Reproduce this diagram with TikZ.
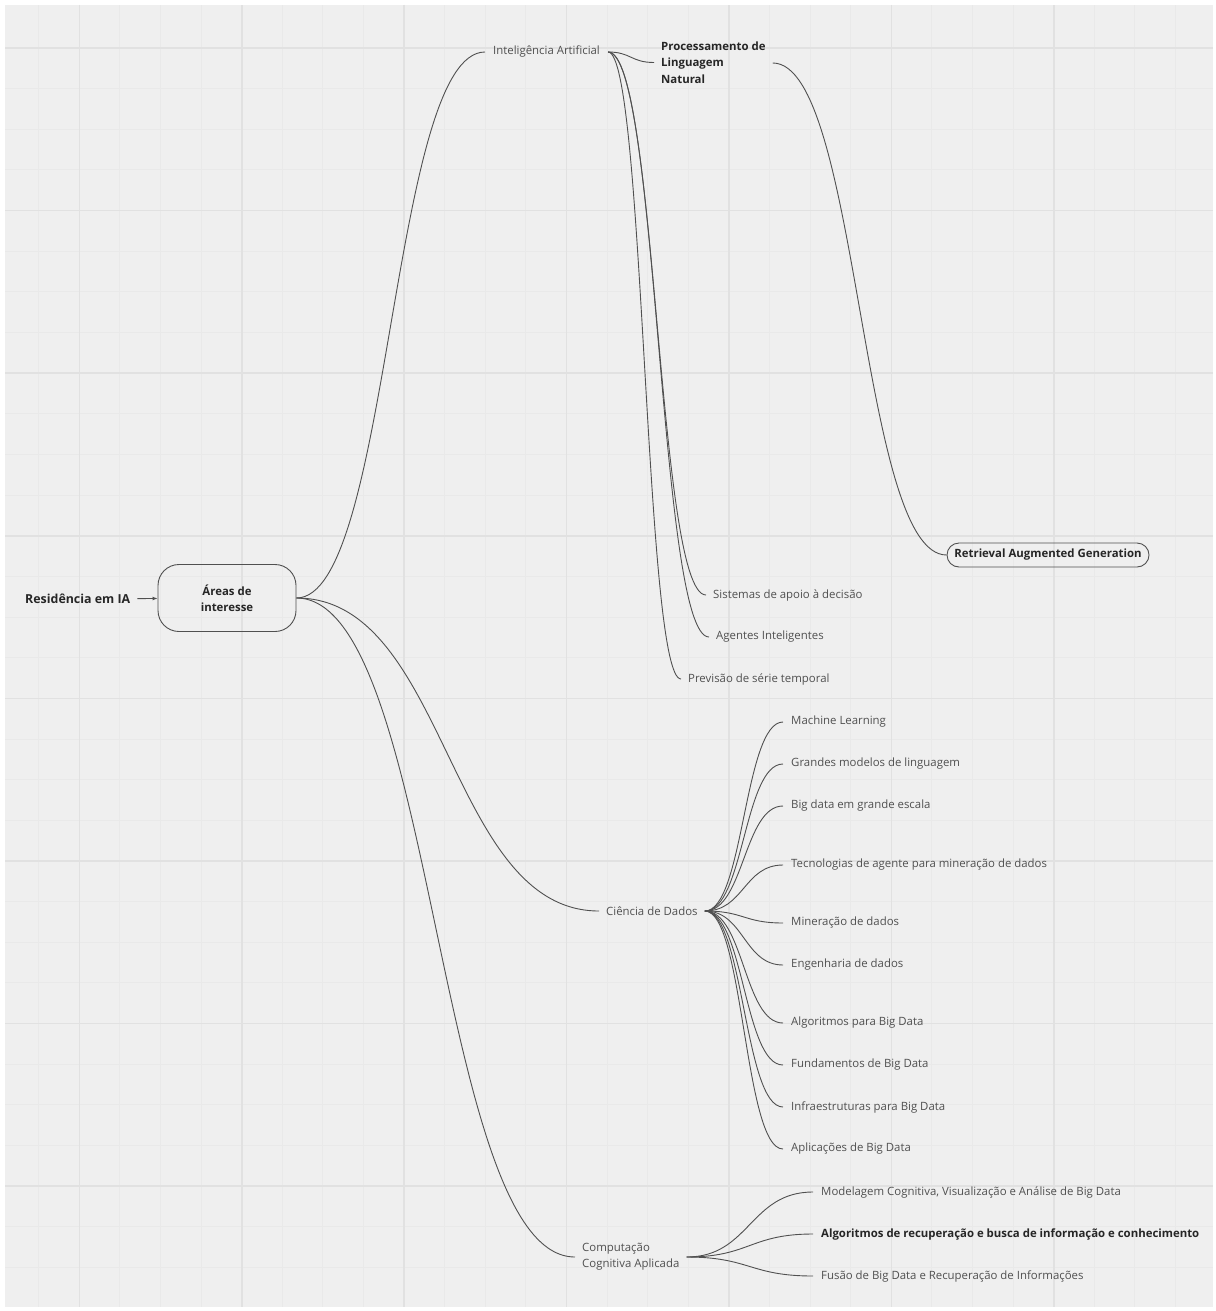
\documentclass[tikz,border=0pt]{standalone}
\usepackage{fontspec}
\setmainfont{Open Sans}
\usetikzlibrary{arrows.meta,calc}

\definecolor{paper}{HTML}{EFEFEF}
\definecolor{gridfine}{HTML}{E9E9E9}
\definecolor{gridbold}{HTML}{E1E1E1}
\definecolor{ink}{HTML}{505050}
\definecolor{inkdark}{HTML}{262626}

\tikzset{
  leaf/.style = {anchor=west, inner xsep=7pt, inner ysep=2pt, text=ink, font=\fontsize{11.4}{16}\selectfont},
  topic/.style = {leaf, text=inkdark, font=\fontsize{11.4}{16.5}\selectfont\bfseries},
  hub/.style = {draw=ink, line width=0.9pt, text=inkdark, align=center, font=\fontsize{11.4}{15.5}\selectfont\bfseries},
  branch/.style = {draw=ink, line width=0.9pt,
    to path={.. controls ($(\tikztostart)!0.5!(\tikztotarget|-\tikztostart)$)
                 and ($(\tikztostart|-\tikztotarget)!0.5!(\tikztotarget)$) .. (\tikztotarget)}}
}

\begin{document}
\begin{tikzpicture}[x=1pt, y=-1pt]
  % background sheet and grid
  \useasboundingbox (0,0) rectangle (1215,1311);
  \fill[paper] (5,5) rectangle (1213,1307);
  \foreach \gx in {38.7,79.3,...,1210}
    \draw[gridfine, line width=1pt] (\gx,5) -- (\gx,1307);
  \foreach \gy in {48,88.65,...,1305}
    \draw[gridfine, line width=1pt] (5,\gy) -- (1213,\gy);
  \foreach \gx in {79.3,241.7,...,1210}
    \draw[gridbold, line width=1.6pt] (\gx,5) -- (\gx,1307);
  \foreach \gy in {48,210.6,...,1305}
    \draw[gridbold, line width=1.6pt] (5,\gy) -- (1213,\gy);

  % root
  \node[topic, font=\fontsize{12.4}{16}\selectfont\bfseries] (res) at (18,599) {Residência em IA};
  \node[hub, rounded corners=21pt, minimum width=138pt, minimum height=67pt] (areas) at (227,598) {Áreas de\\interesse};
  \draw[ink, line width=0.9pt, -{Latex[length=5pt,width=4pt]}] (res) -- (areas);

  % main areas
  \node[leaf, inner xsep=8pt] (ia) at (485,52) {Inteligência Artificial};
  \node[leaf] (cd) at (599,911) {Ciência de Dados};
  \node[leaf, align=left] (cca) at (575,1257) {Computação\\Cognitiva Aplicada};

  \path (areas.east) edge[branch] (ia.west)
                     edge[branch] (cd.west)
                     edge[branch] (cca.west);

  % inteligencia artificial
  \node[topic, align=left] (pln) at (654,62.5) {Processamento de\\Linguagem\\Natural};
  \node[hub, rounded corners=12pt, minimum width=202pt, minimum height=24pt] (rag) at (1048,555) {Retrieval Augmented Generation};
  \node[leaf] (sad) at (706,595) {Sistemas de apoio à decisão};
  \node[leaf] (agi) at (709,637) {Agentes Inteligentes};
  \node[leaf] (pst) at (681,679) {Previsão de série temporal};

  \path (ia.east) edge[branch] (pln.west)
                  edge[branch] (sad.west)
                  edge[branch] (agi.west)
                  edge[branch] (pst.west);
  \path ([yshift=-0.5pt]pln.east) edge[branch] (rag.west);

  % ciencia de dados
  \foreach \name/\y/\txt in {ml/722/Machine Learning,
      gml/764/Grandes modelos de linguagem,
      bge/806/Big data em grande escala,
      tam/865/Tecnologias de agente para mineração de dados,
      mdd/923/Mineração de dados,
      edd/965/Engenharia de dados,
      abd/1023/Algoritmos para Big Data,
      fbd/1065/Fundamentos de Big Data,
      ibd/1107/Infraestruturas para Big Data,
      apd/1149/Aplicações de Big Data}{
    \node[leaf, inner xsep=8pt] (\name) at (783,\y) {\txt};
    \path (cd.east) edge[branch] (\name.west);
  }

  % computacao cognitiva
  \node[leaf, inner xsep=8pt] (mcv) at (813,1192) {Modelagem Cognitiva, Visualização e Análise de Big Data};
  \node[topic, inner xsep=8pt] (arb) at (813,1234) {Algoritmos de recuperação e busca de informação e conhecimento};
  \node[leaf, inner xsep=8pt] (fbr) at (813,1276) {Fusão de Big Data e Recuperação de Informações};

  \path (cca.east) edge[branch] (mcv.west)
                   edge[branch] (arb.west)
                   edge[branch] (fbr.west);
\end{tikzpicture}
\end{document}
